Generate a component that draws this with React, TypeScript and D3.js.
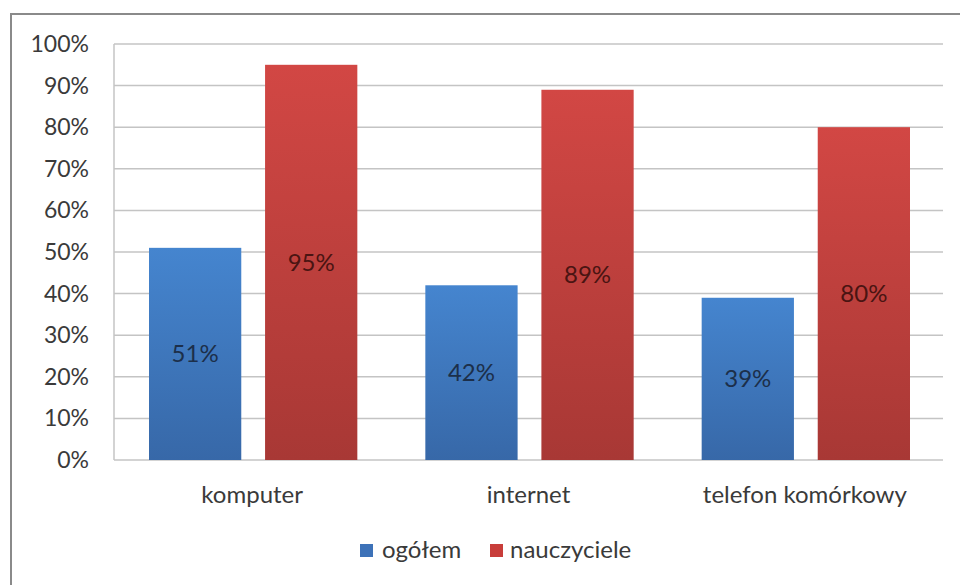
import React from "react";
import * as d3 from "d3";

const categories = ["komputer", "internet", "telefon komórkowy"];
const seriesNames = ["ogółem", "nauczyciele"];
const ogolem = [51, 42, 39];
const nauczyciele = [95, 89, 80];
const yTicks = [0, 10, 20, 30, 40, 50, 60, 70, 80, 90, 100];

const W = 960;
const H = 585;
const left = 114;
const right = 943;
const top = 44;
const bottom = 460;
const FONT = "Lato, 'Open Sans', sans-serif";

export default function App() {
  const x = d3.scaleBand<string>().domain(categories).range([left, right]).paddingInner(0).paddingOuter(0);
  const inner = d3.scaleBand<string>().domain(seriesNames).range([35, x.bandwidth() - 33]).paddingInner(0.205);
  const y = d3.scaleLinear().domain([0, 100]).range([bottom, top]);
  const series = [
    { name: seriesNames[0], values: ogolem, grad: "gBlue", label: "#1c2f4a", sw: "#3d72b8" },
    { name: seriesNames[1], values: nauczyciele, grad: "gRed", label: "#4a1412", sw: "#c83d3a" },
  ];
  return (
    <svg width={W} height={H} style={{ position: "absolute", left: 0, top: 0 }}>
      <defs>
        <linearGradient id="gBlue" x1="0" y1="0" x2="0" y2="1">
          <stop offset="0" stopColor="#4585cf" />
          <stop offset="1" stopColor="#3768a8" />
        </linearGradient>
        <linearGradient id="gRed" x1="0" y1="0" x2="0" y2="1">
          <stop offset="0" stopColor="#d24744" />
          <stop offset="1" stopColor="#a83835" />
        </linearGradient>
      </defs>
      <rect x={0} y={0} width={W} height={H} fill="#ffffff" />
      <rect x={11} y={14} width={W + 10} height={H + 10} fill="none" stroke="#8a8a8a" strokeWidth={2} />
      {yTicks.map((t) => (
        <g key={t}>
          <line x1={left} x2={right} y1={y(t)} y2={y(t)} stroke="#c4c4c4" strokeWidth={1.5} />
          <text x={89} y={y(t)} dy="0.35em" textAnchor="end" fontFamily={FONT} fontSize={23} fill="#3a3a3a">
            {t}%
          </text>
        </g>
      ))}
      <line x1={left} x2={left} y1={top} y2={bottom} stroke="#c4c4c4" strokeWidth={1.5} />
      {categories.map((c, i) => (
        <g key={c}>
          {series.map((s) => {
            const bx = (x(c) ?? 0) + (inner(s.name) ?? 0);
            const bw = inner.bandwidth();
            const v = s.values[i];
            return (
              <g key={s.name}>
                <rect x={bx} y={y(v)} width={bw} height={y(0) - y(v)} fill={`url(#${s.grad})`} />
                <text
                  x={bx + bw / 2}
                  y={(y(v) + y(0)) / 2}
                  dy="0.35em"
                  textAnchor="middle"
                  fontFamily={FONT}
                  fontSize={24}
                  fill={s.label}
                >
                  {v}%
                </text>
              </g>
            );
          })}
          <text
            x={(x(c) ?? 0) + x.bandwidth() / 2}
            y={495}
            dy="0.35em"
            textAnchor="middle"
            fontFamily={FONT}
            fontSize={24}
            fill="#3a3a3a"
          >
            {c}
          </text>
        </g>
      ))}
      <g>
        <rect x={360} y={544} width={13} height={13} fill={series[0].sw} />
        <text x={382} y={550} dy="0.35em" fontFamily={FONT} fontSize={24} fill="#3a3a3a">
          {seriesNames[0]}
        </text>
        <rect x={490} y={544} width={13} height={13} fill={series[1].sw} />
        <text x={510} y={550} dy="0.35em" fontFamily={FONT} fontSize={24} fill="#3a3a3a">
          {seriesNames[1]}
        </text>
      </g>
    </svg>
  );
}
